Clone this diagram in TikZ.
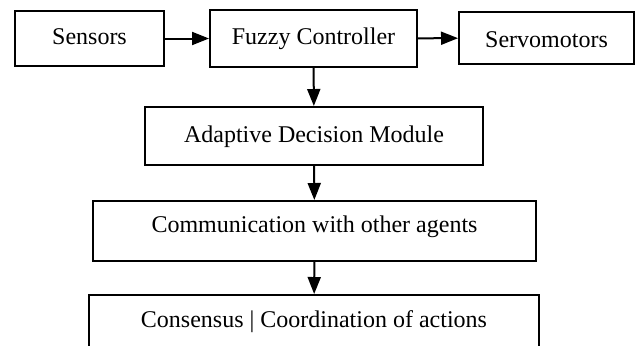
\documentclass[tikz,border=0pt]{standalone}
\usepackage{fontspec}
\setmainfont{Liberation Serif}
\usetikzlibrary{arrows.meta}

\begin{document}
\begin{tikzpicture}[
    x=0.5pt, y=-0.5pt,
    block/.style={rectangle, draw, line width=1pt, inner sep=0pt, text height=9pt, text depth=3pt, font=\fontsize{12}{14}\selectfont},
    arrow/.style={-{Triangle[length=8.5pt, width=6.5pt]}, line width=1pt}
]
    \useasboundingbox (0, 0) rectangle (637, 345);
    \clip (0, 0) rectangle (637, 345);

    \node[block, minimum width=74.5pt, minimum height=27.5pt] (sensors) at (89.5, 38.5) {Sensors};
    \node[block, minimum width=103.5pt, minimum height=28.5pt] (fuzzy) at (313.5, 38.5) {Fuzzy Controller};
    \node[block, minimum width=87.5pt, minimum height=26pt, text depth=0pt] (servo) at (546.5, 38) {Servomotors};
    \node[block, minimum width=169pt, minimum height=29pt] (adaptive) at (314, 136) {Adaptive Decision Module};
    \node[block, minimum width=221.5pt, minimum height=30pt, text depth=8pt] (comm) at (314.5, 231) {Communication with other agents};
    \node[block, minimum width=225pt, minimum height=26pt] (consensus) at (314, 321) {Consensus | Coordination of actions};

    \draw[arrow] (sensors) -- (fuzzy);
    \draw[arrow] (fuzzy) -- (servo);
    \draw[arrow] (fuzzy) -- (adaptive);
    \draw[arrow] (adaptive) -- (comm);
    \draw[arrow] (comm) -- (consensus);
\end{tikzpicture}
\end{document}
